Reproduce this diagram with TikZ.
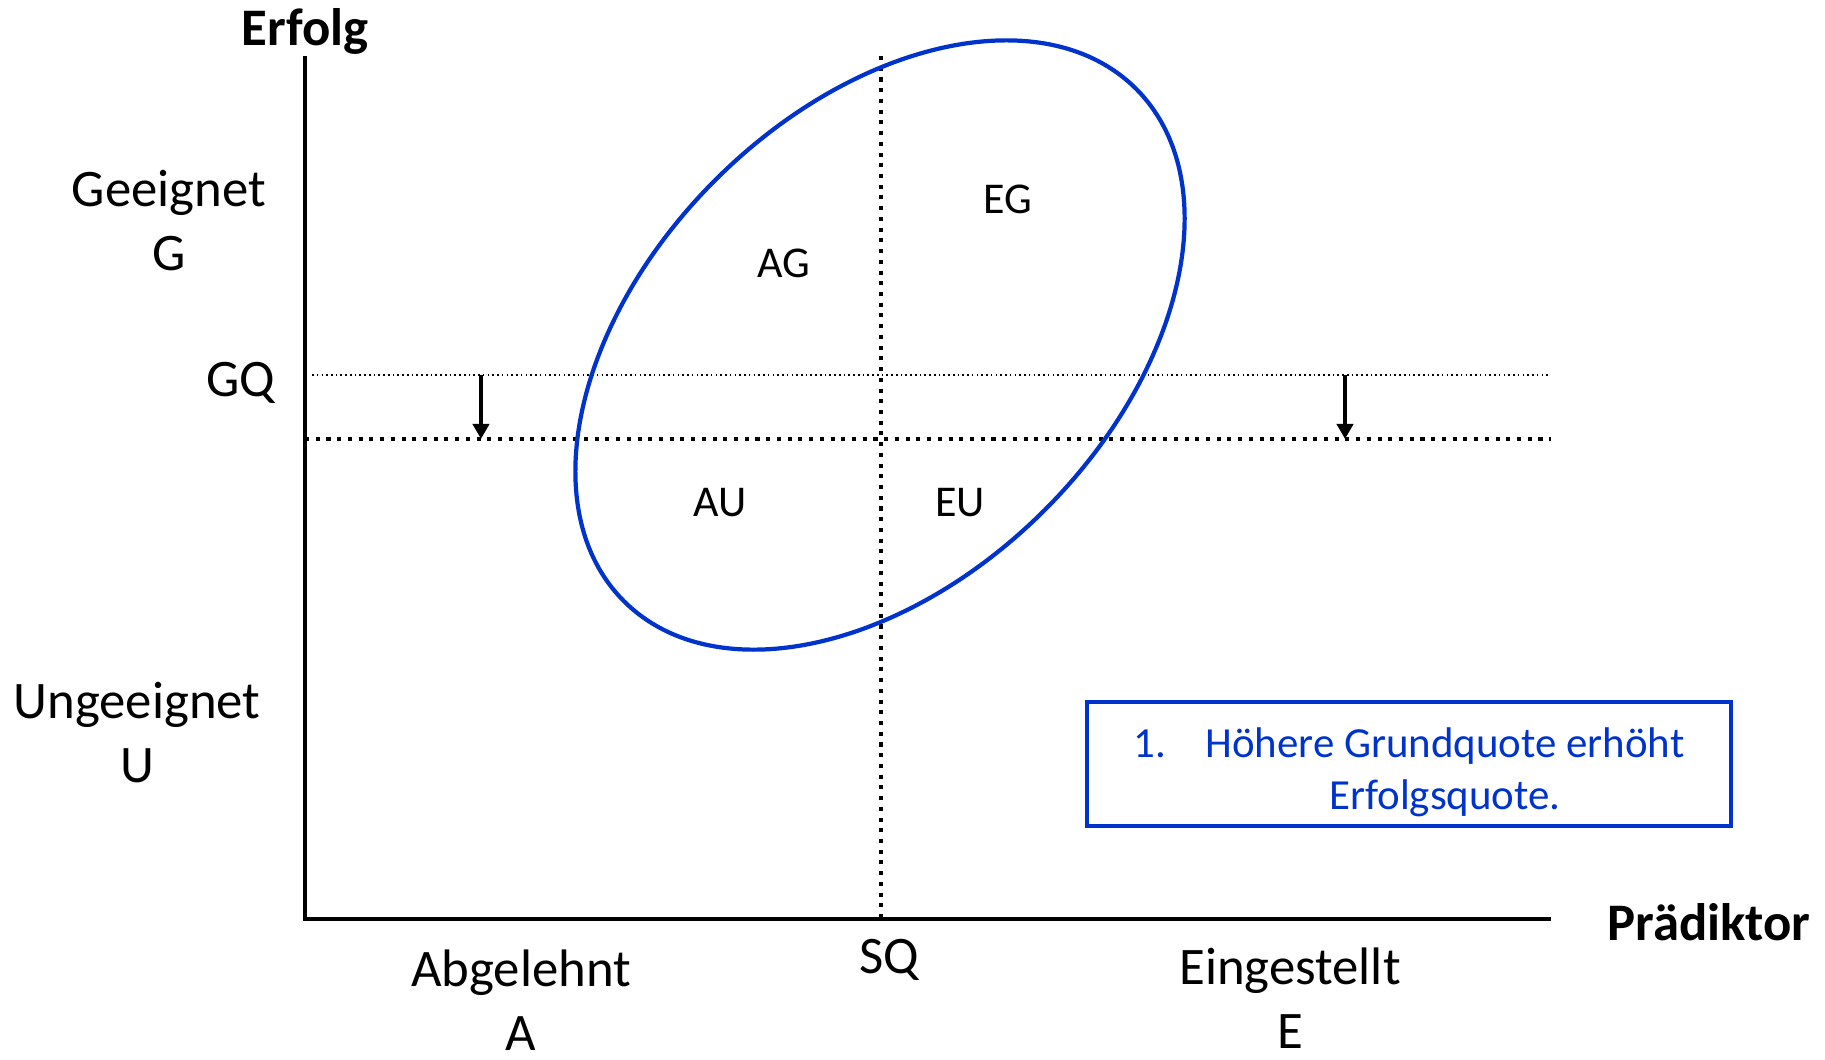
\documentclass[tikz,border=0pt]{standalone}
\usepackage{fontspec}
\setmainfont{Carlito}
\usepackage{tikz}
\usetikzlibrary{arrows.meta,positioning}
\definecolor{ellblue}{RGB}{0,51,204}
\tikzset{
  axis/.style={line width=1.2pt, draw=black, line join=miter},
  newquote/.style={line width=1.15pt, dash pattern=on 1.15pt off 1.9pt},
  oldquote/.style={line width=0.45pt, dash pattern=on 0.45pt off 0.9pt},
  lbl/.style={font=\fontsize{15}{18.2}\selectfont, align=center, inner sep=0pt},
  cell/.style={font=\fontsize{12.5}{15}\selectfont, inner sep=0pt},
  arr/.style={-{Triangle[length=4.3pt, width=4.6pt]}, line width=1.15pt},
  notebox/.style={rectangle, draw=ellblue, line width=1.2pt,
                  minimum width=6.43cm, minimum height=1.24cm},
  notetext/.style={text=ellblue, align=center, inner sep=0pt,
                   font=\fontsize{12.2}{14.8}\selectfont},
}

\begin{document}
\begin{tikzpicture}[x=0.01cm, y=0.01cm]
  \useasboundingbox (0,0) rectangle (1825,1059);
  % axes
  \coordinate (o)    at (305,140);
  \coordinate (ytop) at (305,1003);
  \coordinate (xend) at (1551,140);
  \draw[axis] (ytop) -- (o) -- (xend);
  \node[lbl, font=\fontsize{15}{18.2}\selectfont\bfseries] (erf) at (305,1028) {Erfolg};
  \node[lbl, font=\fontsize{15}{18.2}\selectfont\bfseries] (pra) at (1709,137) {Prädiktor};
  % quotas
  \coordinate (gq1) at (312,684);  \coordinate (gq2) at (1551,684);
  \coordinate (gn1) at (305,620);  \coordinate (gn2) at (1551,620);
  \coordinate (sq1) at (881,1003); \coordinate (sq2) at (881,140);
  \draw[oldquote] (gq1) -- (gq2);
  \draw[newquote] (gn1) -- (gn2);
  \draw[newquote] (sq1) -- (sq2);
  % shift of GQ
  \coordinate (al) at (481,684); \coordinate (bl) at (481,620);
  \coordinate (ar) at (1345,684); \coordinate (br) at (1345,620);
  \draw[arr] (al) -- (bl);
  \draw[arr] (ar) -- (br);
  % point cloud
  \draw[ellblue, line width=1.2pt, rotate around={45:(880,714)}]
    (880,714) ellipse [x radius=3.62cm, y radius=2.33cm];
  % axis labels
  \node[lbl] (gee) at (169,838) {Geeignet\\G};
  \node[lbl] (gq)  at (241,676) {GQ};
  \node[lbl] (ung) at (137,326) {Ungeeignet\\U};
  \node[lbl] (abg) at (521,59)  {Abgelehnt\\A};
  \node[lbl] (sq)  at (889,99)  {SQ};
  \node[lbl] (ein) at (1290,61) {Eingestellt\\E};
  % cells
  \node[cell] (ag) at (784,796) {AG};
  \node[cell] (eg) at (1008,860) {EG};
  \node[cell] (au) at (720,556) {AU};
  \node[cell] (eu) at (960,556) {EU};
  % note
  \node[notebox] (note) at (1409,295) {};
  \node[notetext] (notetxt) at (1409,287)
    {\makebox[0.72cm][l]{1.}Höhere Grundquote erhöht\\\hspace*{0.72cm}Erfolgsquote.};
\end{tikzpicture}
\end{document}
